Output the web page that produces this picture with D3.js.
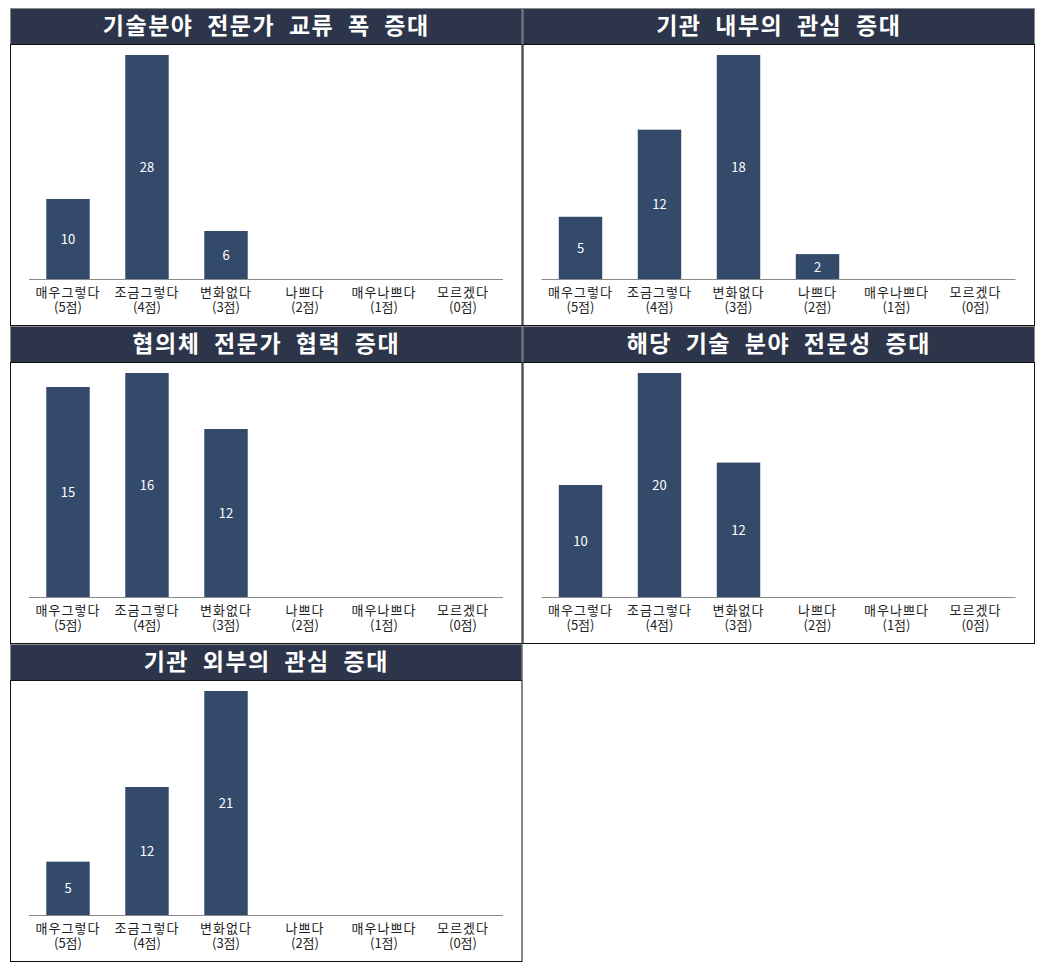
<!DOCTYPE html>
<html><head><meta charset="utf-8">
<script src="https://cdn.jsdelivr.net/npm/d3@7"></script>
<style>body{margin:0;background:#fff;} svg{display:block;}</style>
</head><body>
<svg id="c" width="1044" height="970"></svg>
<script>
const categories = ["매우그렇다|(5점)","조금그렇다|(4점)","변화없다|(3점)","나쁘다|(2점)","매우나쁘다|(1점)","모르겠다|(0점)"];
const titles = ["기술분야 전문가 교류 폭 증대","기관 내부의 관심 증대","협의체 전문가 협력 증대","해당 기술 분야 전문성 증대","기관 외부의 관심 증대"];
const values1 = [10,28,6,null,null,null];
const values2 = [5,12,18,2,null,null];
const values3 = [15,16,12,null,null,null];
const values4 = [10,20,12,null,null,null];
const values5 = [5,12,21,null,null,null];
const seriesList = [values1,values2,values3,values4,values5];

const svg = d3.select("#c");
const font = "'Noto Sans CJK KR','Noto Sans',sans-serif";
const panelW = 512.5, rowH = 318, titleH = 36, bodyH = 282;
const x0 = 10, y0 = 8;

seriesList.forEach((vals, i) => {
  const col = i % 2, row = Math.floor(i / 2);
  const px = x0 + col * panelW, py = y0 + row * rowH;
  const g = svg.append("g").attr("transform", `translate(${px},${py})`);
  // title bar
  g.append("rect").attr("x",0).attr("y",0).attr("width",panelW).attr("height",titleH).attr("fill","#2c3549");
  g.append("line").attr("x1",0).attr("x2",panelW).attr("y1",0.5).attr("y2",0.5).attr("stroke","#8a8a8a").attr("stroke-width",1);
  g.append("line").attr("x1",0.5).attr("x2",0.5).attr("y1",0).attr("y2",titleH).attr("stroke","#8a8a8a");
  g.append("line").attr("x1",panelW-0.5).attr("x2",panelW-0.5).attr("y1",0).attr("y2",titleH).attr("stroke","#8a8a8a");
  g.append("text").attr("x",panelW/2).attr("y",titleH/2+8).attr("text-anchor","middle")
    .attr("fill","#fff").attr("font-family",font).attr("font-weight","bold").attr("font-size",23)
    .attr("letter-spacing","1.5px").attr("word-spacing","7px").text(titles[i]);
  // body
  g.append("rect").attr("x",0.5).attr("y",titleH+0.5).attr("width",panelW-1).attr("height",bodyH-1)
    .attr("fill","none").attr("stroke","#111").attr("stroke-width",1);
  const baseY = titleH + 235;
  const x = d3.scaleBand().domain(categories).range([18.5, 18.5 + 6*79]).paddingInner(0.45).paddingOuter(0.225);
  const vmax = d3.max(vals);
  const y = d3.scaleLinear().domain([0, vmax]).range([baseY, baseY - 224]);
  const data = categories.map((c, k) => ({c, v: vals[k]})).filter(d => d.v != null);
  g.selectAll("rect.bar").data(data).enter().append("rect").attr("class","bar")
    .attr("x", d => x(d.c)).attr("width", x.bandwidth())
    .attr("y", d => y(d.v)).attr("height", d => baseY - y(d.v)).attr("fill","#344a6b");
  g.selectAll("text.val").data(data).enter().append("text").attr("class","val")
    .attr("x", d => x(d.c) + x.bandwidth()/2).attr("y", d => (y(d.v)+baseY)/2 + 5)
    .attr("text-anchor","middle").attr("fill","#fff").attr("font-family",font).attr("font-size",13)
    .text(d => d.v);
  // axis
  const axis = d3.axisBottom(x).tickSize(0).tickFormat("");
  const ag = g.append("g").attr("transform",`translate(0,${baseY})`).call(axis);
  ag.select(".domain").attr("stroke","#8a8a8a");
  categories.forEach(c => {
    const parts = c.split("|");
    const cx = x(c)+x.bandwidth()/2;
    g.append("text").attr("text-anchor","middle").attr("fill","#222")
      .attr("font-family",font).attr("font-size",13).attr("letter-spacing","1px")
      .attr("x", cx).attr("y", baseY+18).text(parts[0]);
    g.append("text").attr("text-anchor","middle").attr("fill","#222")
      .attr("font-family",font).attr("font-size",13)
      .attr("x", cx).attr("y", baseY+33).text(parts[1]);
  });
});
</script>
</body></html>
